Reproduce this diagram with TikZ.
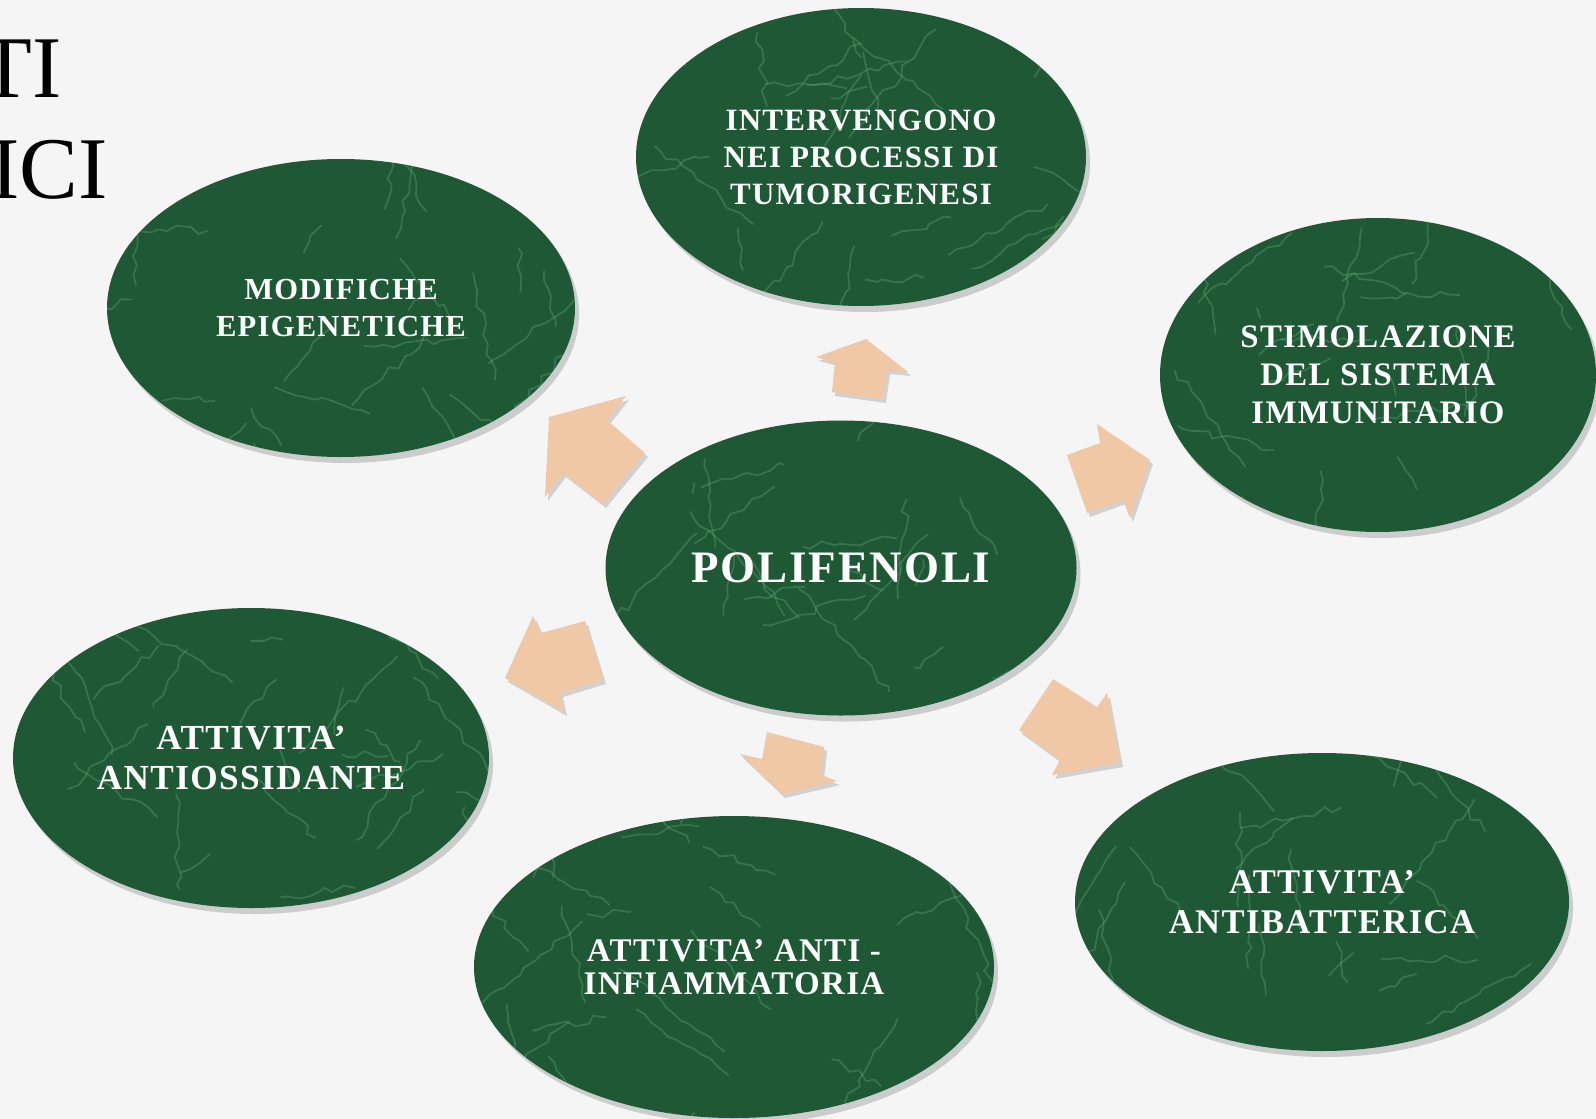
\documentclass[tikz,border=0pt]{standalone}
\usepackage{fontspec}
\setmainfont{Liberation Serif}
\newfontfamily\labelfont{Liberation Serif}[LetterSpace=4]
\usetikzlibrary{shapes.geometric, shadows, calc, decorations.pathmorphing}
\definecolor{paper}{RGB}{245,245,245}
\definecolor{marble}{RGB}{30,88,52}
\definecolor{veingreen}{RGB}{100,170,120}
\definecolor{peach}{RGB}{240,200,166}

\begin{document}
\begin{tikzpicture}[x=0.5pt, y=-0.5pt,
    vein/.style={veingreen, opacity=0.35, line width=0.9pt, decorate, decoration={random steps, segment length=5pt, amplitude=2pt}},
    bubble/.style={ellipse, fill=marble, inner sep=0pt, align=center, text=white,
        drop shadow={shadow xshift=2pt, shadow yshift=-3pt, opacity=0.35},
        path picture={\foreach \v in {1,...,28} {\draw[vein] ($(path picture bounding box.center)+(rand*260,rand*160)$) -- ++(rand*110,rand*110);}}},
    pointer/.style={fill=peach, drop shadow={shadow xshift=1.5pt, shadow yshift=-2pt, opacity=0.3}},
    lbl/.style={font=\labelfont\bfseries\fontsize{#1}{18.5}\selectfont}
]
    \pgfmathsetseed{17}
    % Page
    \fill[paper] (0,0) rectangle (1596,1119);
    \useasboundingbox (0,0) rectangle (1596,1119);

    % Title, cut at the left edge
    \node[anchor=base east, font=\fontsize{44}{48}\selectfont] (ttl1) at (69,97) {TI};
    \node[anchor=base east, font=\fontsize{44}{48}\selectfont] (ttl2) at (115,198) {ICI};

    % Centre
    \node[bubble, minimum width=235.5pt, minimum height=147.5pt, font=\labelfont\bfseries\fontsize{22.5}{26}\selectfont] (poli) at (841,568) {POLIFENOLI};

    % Outer bubbles
    \node[bubble, minimum width=225pt, minimum height=149pt, lbl=15.5] (tumor) at (861,157) {INTERVENGONO\\NEI PROCESSI DI\\TUMORIGENESI};
    \node[bubble, minimum width=234pt, minimum height=149pt, lbl=15.3] (epi) at (341,308) {MODIFICHE\\EPIGENETICHE};
    \node[bubble, minimum width=218pt, minimum height=157pt, font=\labelfont\bfseries\fontsize{16.4}{19}\selectfont] (immune) at (1378,375) {STIMOLAZIONE\\DEL SISTEMA\\IMMUNITARIO};
    \node[bubble, minimum width=238pt, minimum height=150pt, font=\labelfont\bfseries\fontsize{17.6}{20}\selectfont] (antiox) at (251,758) {ATTIVITA’\\ANTIOSSIDANTE};
    \node[bubble, minimum width=260pt, minimum height=151pt, font=\labelfont\bfseries\fontsize{16.5}{16.7}\selectfont] (inflam) at (734,967) {ATTIVITA’ ANTI -\\INFIAMMATORIA};
    \node[bubble, minimum width=247pt, minimum height=149pt, font=\labelfont\bfseries\fontsize{17.3}{20}\selectfont] (bact) at (1322,902) {ATTIVITA’\\ANTIBATTERICA};

    % Block arrows
    \fill[pointer] (866,339) -- (908,372) -- (887,370) -- (883,399) -- (832,392) -- (835,362) -- (816,357) -- cycle;
    \fill[pointer] (549,417) -- (626,396) -- (607,420) -- (645,453) -- (603,504) -- (563,473) -- (545,497) -- cycle;
    \fill[pointer] (1150,460) -- (1130,518) -- (1123,500) -- (1087,513) -- (1067,455) -- (1100,443) -- (1097,424) -- cycle;
    \fill[pointer] (505,678) -- (533,616) -- (541,633) -- (585,621) -- (603,680) -- (560,693) -- (564,712) -- cycle;
    \fill[pointer] (782,794) -- (740,754) -- (762,759) -- (767,732) -- (824,747) -- (821,775) -- (837,781) -- cycle;
    \fill[pointer] (1120,763) -- (1107,693) -- (1097,707) -- (1053,679) -- (1019,730) -- (1060,760) -- (1052,775) -- cycle;
\end{tikzpicture}
\end{document}
